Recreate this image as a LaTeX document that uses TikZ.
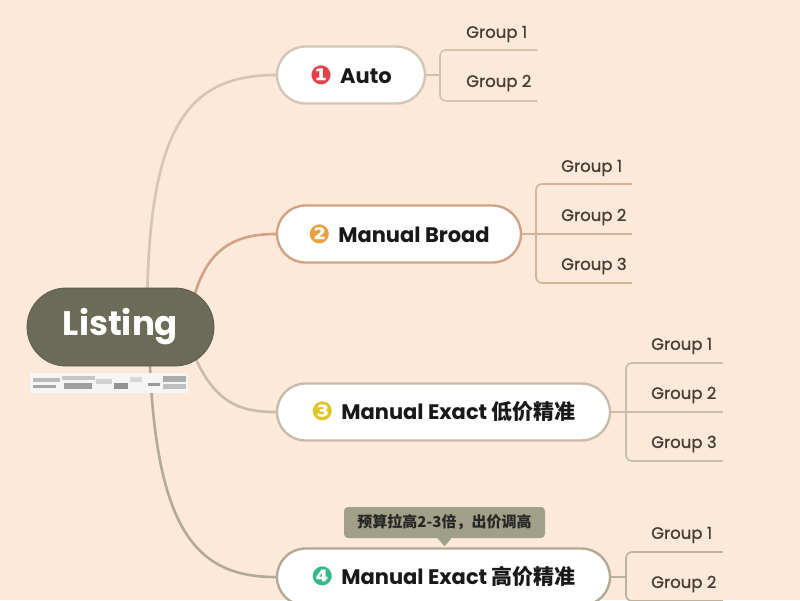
\documentclass[tikz,border=0pt]{standalone}
\usepackage{fontspec}
\setmainfont{Poppins}
\newfontfamily\cjk{Noto Sans CJK SC}
\newfontfamily\dv{DejaVu Sans}
\newfontfamily\pmed{Poppins}[FakeBold=1.0]
\newcommand\numicon[2]{{\dv\fontsize{26}{20}\selectfont\raisebox{-1pt}{\textcolor{#1}{#2}}}}
\definecolor{bg}{RGB}{252,233,217}
\definecolor{listfill}{RGB}{107,107,88}
\definecolor{cAuto}{RGB}{214,197,181}
\definecolor{cBroad}{RGB}{211,162,132}
\definecolor{cExact}{RGB}{201,188,171}
\definecolor{cFour}{RGB}{180,170,147}
\definecolor{gAuto}{RGB}{214,192,170}
\definecolor{gBroad}{RGB}{214,178,152}
\definecolor{gExact}{RGB}{201,188,170}
\definecolor{gFour}{RGB}{190,178,156}
\definecolor{labtxt}{RGB}{72,60,50}
\definecolor{notefill}{RGB}{160,159,136}
\definecolor{icRed}{RGB}{226,66,72}
\definecolor{icOrange}{RGB}{232,160,64}
\definecolor{icYellow}{RGB}{224,196,40}
\definecolor{icGreen}{RGB}{56,182,140}
\pgfdeclarelayer{bgfill}
\pgfdeclarelayer{lines}
\pgfsetlayers{bgfill,lines,main}
\begin{document}
\begin{tikzpicture}[x=1pt,y=-1pt,
  pill/.style={draw, line width=2.4pt, fill=white, rounded corners=28.5pt,
    minimum height=57pt, inner sep=0pt, text=black!90,
    font=\bfseries\fontsize{21}{24}\selectfont},
  conn/.style={line width=2.6pt},
  grp/.style={line width=1.6pt, rounded corners=6pt},
  lab/.style={anchor=west, text=labtxt, inner sep=0pt, font=\pmed\fontsize{16.5}{18}\selectfont}
]
\useasboundingbox (0,0) rectangle (800,600);
\clip (0,0) rectangle (800,600);
\begin{pgfonlayer}{bgfill}
\fill[bg] (0,0) rectangle (800,600);
\end{pgfonlayer}

% anchor points behind the central node
\coordinate (sA) at (147,320);
\coordinate (sB) at (192,305);
\coordinate (sC) at (188,340);
\coordinate (sD) at (149,332);

% branch nodes
\node[pill, draw=cAuto, minimum width=148pt] (auto) at (351,75)
  {\numicon{icRed}{❶}\hspace{8pt}Auto};
\node[pill, draw=cBroad, minimum width=244pt] (broad) at (399,234)
  {\numicon{icOrange}{❷}\hspace{8pt}Manual Broad};
\node[pill, draw=cExact, minimum width=333pt] (exact) at (443.5,412)
  {\numicon{icYellow}{❸}\hspace{8pt}Manual Exact {\cjk 低价精准}};
\node[pill, draw=cFour, minimum width=333pt] (four) at (443.5,577)
  {\numicon{icGreen}{❹}\hspace{8pt}Manual Exact {\cjk 高价精准}};

% central node
\node[fill=listfill, draw=listfill!85!black, line width=0.8pt, rounded corners=39pt,
  minimum width=187pt, minimum height=78pt, text=white,
  font=\bfseries\fontsize{34}{36}\selectfont] (listing) at (120.5,327) {Listing};

% connectors from the centre (behind nodes)
\begin{pgfonlayer}{lines}
\draw[conn, cAuto] (sA) .. controls (147,130) and (185,75) .. (auto.west);
\draw[conn, cBroad] (sB) .. controls (205,248) and (235,234) .. (broad.west);
\draw[conn, cExact] (sC) .. controls (210,400) and (235,412) .. (exact.west);
\draw[conn, cFour] (sD) .. controls (152,530) and (195,577) .. (four.west);
\end{pgfonlayer}

% small picture under the central node
\fill[white!92!gray] (30,373) rectangle (188,393);
\fill[gray!55] (33,378) rectangle (60,382);
\fill[gray!70] (33,385) rectangle (56,388);
\fill[gray!45] (62,376) rectangle (95,380);
\fill[gray!75] (64,383) rectangle (92,389);
\fill[gray!35] (96,379) rectangle (112,384);
\fill[gray!85] (114,383) rectangle (128,389);
\fill[gray!30] (130,377) rectangle (142,382);
\fill[gray!80] (148,383) rectangle (160,386);
\fill[gray!65] (163,376) rectangle (186,382);
\fill[gray!50] (163,384) rectangle (186,389);

% group brackets: Auto
\coordinate (ja) at (440,75);
\draw[grp, gAuto] (auto.east) -- (ja);
\draw[grp, gAuto] (537,50) -- (440,50) -- (440,101) -- (537,101);
\node[lab] (a1) at (466,34) {Group 1};
\node[lab] (a2) at (466,83) {Group 2};

% Broad
\coordinate (jb) at (632,234);
\draw[grp, gBroad] (broad.east) -- (jb);
\draw[grp, gBroad] (632,184) -- (536,184) -- (536,283) -- (632,283);
\node[lab] (b1) at (561,168) {Group 1};
\node[lab] (b2) at (561,217) {Group 2};
\node[lab] (b3) at (561,266) {Group 3};

% Exact low
\coordinate (jc) at (723,412);
\draw[grp, gExact] (exact.east) -- (jc);
\draw[grp, gExact] (723,363) -- (626,363) -- (626,461) -- (723,461);
\node[lab] (c1) at (651,346) {Group 1};
\node[lab] (c2) at (651,395) {Group 2};
\node[lab] (c3) at (651,444) {Group 3};

% Exact high
\coordinate (jd) at (626,577);
\draw[grp, gFour] (four.east) -- (jd);
\draw[grp, gFour] (723,552) -- (626,552) -- (626,601) -- (723,601);
\node[lab] (d1) at (651,535) {Group 1};
\node[lab] (d2) at (651,584) {Group 2};

% callout
\node[fill=notefill, rounded corners=4pt, minimum width=201pt, minimum height=31pt,
  inner sep=0pt, text=black!85, font=\cjk\bfseries\fontsize{15}{16}\selectfont]
  (note) at (444.5,522.5) {预算拉高2-3倍，出价调高};
\fill[notefill] ([xshift=-7pt]note.south) -- ([xshift=7pt]note.south) -- ([yshift=-8pt]note.south) -- cycle;
\end{tikzpicture}
\end{document}
